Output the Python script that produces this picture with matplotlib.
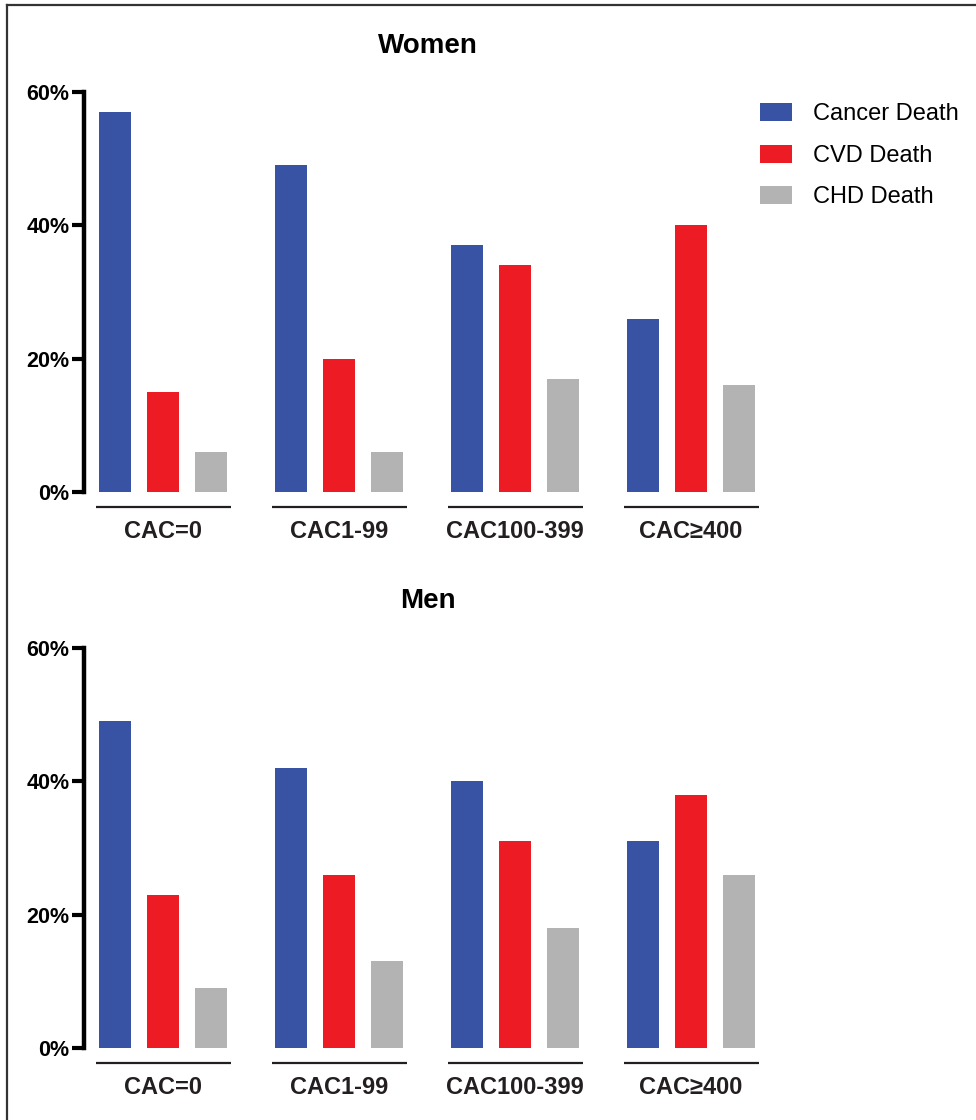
import numpy as np
import matplotlib
matplotlib.use("Agg")
import matplotlib.pyplot as plt
from matplotlib.lines import Line2D
import matplotlib.transforms as mtransforms

plt.rcParams['font.family'] = ['Liberation Sans', 'DejaVu Sans']

# data (percent of deaths)
groups = ["CAC=0", "CAC1-99", "CAC100-399", "CAC\u2265400"]
series = ["Cancer Death", "CVD Death", "CHD Death"]
women_cancer = [57, 49, 37, 26]
women_cvd = [15, 20, 34, 40]
women_chd = [6, 6, 17, 16]
men_cancer = [49, 42, 40, 31]
men_cvd = [23, 26, 31, 38]
men_chd = [9, 13, 18, 26]
yticks = [0, 20, 40, 60]

colors = ["#3953a4", "#ed1c24", "#b3b3b3"]
txt = "#231f20"

W, H = 976, 1120
fig = plt.figure(figsize=(W / 100, H / 100), dpi=100)

# outer frame (top + left only)
fig.add_artist(Line2D([7 / W, 7 / W], [0, 1 - 5 / H], color="#333333", lw=1.6))
fig.add_artist(Line2D([7 / W, 1], [1 - 5 / H, 1 - 5 / H], color="#333333", lw=1.6))

x = np.arange(len(groups))
step = 176.0  # pixels between groups
bw = 32 / step
off = 48 / step
x_left = -(163 - 84) / step
x_right = (772 - 163) / step


def panel(bottom_px, title, title_y, vals, legend=False):
    ax = fig.add_axes([84 / W, 1 - bottom_px / H, (772 - 84) / W, 400 / H])
    for i, (v, c, name) in enumerate(zip(vals, colors, series)):
        ax.bar(x + (i - 1) * off, v, width=bw, color=c, label=name)
    ax.set_xlim(x_left, x_right)
    ax.set_ylim(0, 60)
    for s in ["top", "right", "bottom"]:
        ax.spines[s].set_visible(False)
    ax.spines["left"].set_linewidth(3.2)
    ax.spines["left"].set_color("black")
    ax.set_yticks(yticks)
    ax.set_yticklabels([f"{t}%" for t in yticks], fontsize=15.5, fontweight="bold")
    ax.tick_params(axis="y", length=9, width=3, pad=1.5, colors="black")
    ax.set_xticks([])
    trans = mtransforms.blended_transform_factory(ax.transData, ax.transAxes)
    half = 67.5 / step
    for xi, g in zip(x, groups):
        ax.plot([xi - half, xi + half], [-0.037, -0.037], color=txt, lw=1.6,
                transform=trans, clip_on=False, solid_capstyle="butt")
        ax.text(xi, -0.1, g, transform=trans, ha="center", va="center",
                fontsize=17, fontweight="bold", color=txt)
    fig.text(428 / W, 1 - title_y / H, title, ha="center", va="center",
             fontsize=20, fontweight="bold")
    if legend:
        fig.legend(*ax.get_legend_handles_labels(), loc="upper left",
                   bbox_to_anchor=(760 / W, 1 - 103 / H), frameon=False,
                   fontsize=17, handlelength=1.35, handleheight=0.8,
                   handletextpad=0.9, labelspacing=0.82, borderpad=0,
                   borderaxespad=0)
    return ax


panel(492, "Women", 46, [women_cancer, women_cvd, women_chd], legend=True)
panel(1048, "Men", 601, [men_cancer, men_cvd, men_chd])

fig.savefig("out.png", dpi=100)
